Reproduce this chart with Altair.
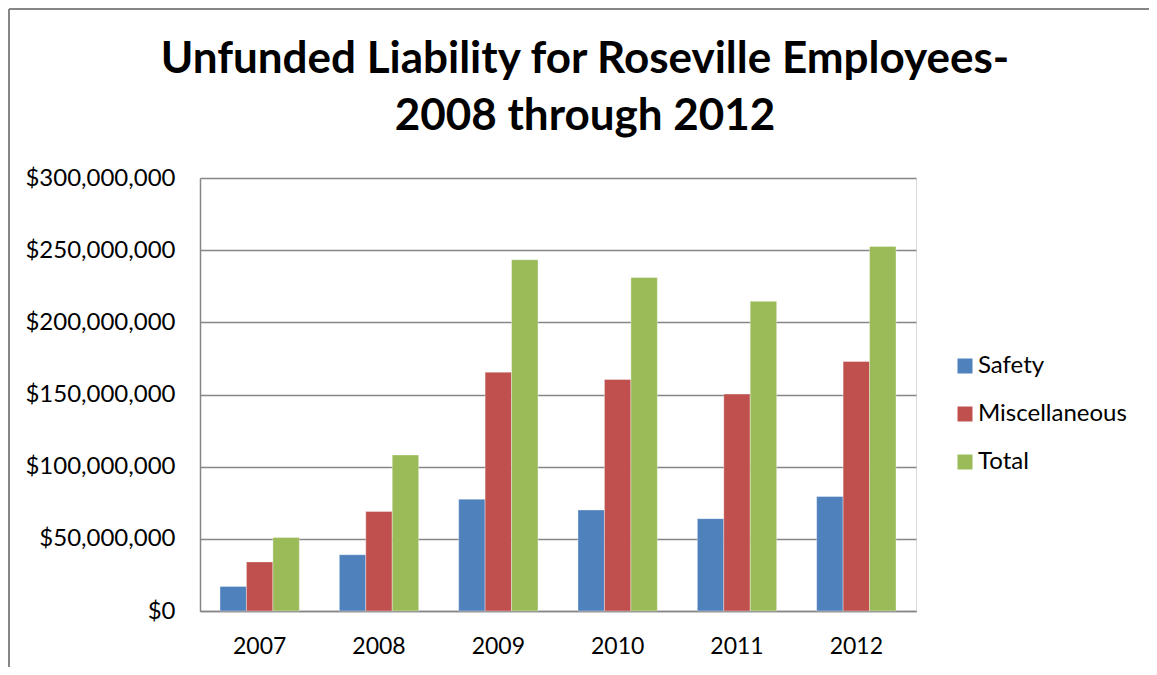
import altair as alt
import pandas as pd

years = ["2007", "2008", "2009", "2010", "2011", "2012"]
series = ["Safety", "Miscellaneous", "Total"]
safety = [17.0e6, 39.0e6, 77.5e6, 70.0e6, 64.0e6, 79.3e6]
misc = [34.0e6, 69.0e6, 165.5e6, 160.4e6, 150.3e6, 172.9e6]
total = [51.0e6, 108.1e6, 243.4e6, 231.0e6, 214.6e6, 252.6e6]
colors = ["#4F81BD", "#C0504D", "#9BBB59"]
y_ticks = [0, 50e6, 100e6, 150e6, 200e6, 250e6, 300e6]
title_lines = ["Unfunded Liability for Roseville Employees-", "2008 through 2012"]

rows = []
for i, yr in enumerate(years):
    for s, vals in zip(series, [safety, misc, total]):
        rows.append({"Year": yr, "Series": s, "Value": vals[i]})
df = pd.DataFrame(rows)

FONT = "Lato"
GRID = "#868686"

bars = alt.Chart(df).mark_bar(stroke="white", strokeWidth=0.6, strokeOpacity=0.6).encode(
    x=alt.X("Year:N", sort=years, title=None,
            scale=alt.Scale(paddingInner=0.335, paddingOuter=0.1675),
            axis=alt.Axis(labelAngle=0, labelFontSize=23, labelColor="black",
                          labelPadding=24, ticks=False, domainColor=GRID,
                          domainWidth=1.5, labelFont=FONT)),
    xOffset=alt.XOffset("Series:N", sort=series),
    y=alt.Y("Value:Q", title=None,
            scale=alt.Scale(domain=[0, 300e6], nice=False),
            axis=alt.Axis(values=y_ticks, format="$,.0f", labelFontSize=24,
                          labelColor="black", labelPadding=25, ticks=False,
                          domainColor=GRID, domainWidth=1.5, gridColor=GRID,
                          gridWidth=1.5, labelFont=FONT)),
    color=alt.Color("Series:N", sort=series,
                    scale=alt.Scale(domain=series, range=colors),
                    legend=alt.Legend(title=None, orient="none", legendX=753,
                                      legendY=176, symbolType="square",
                                      symbolSize=225, symbolStrokeWidth=0,
                                      labelFontSize=24, labelFont=FONT,
                                      labelColor="black", rowPadding=24,
                                      labelOffset=1)),
)

frame_data = alt.Data(values=[{"a": 1}])
top_line = alt.Chart(frame_data).mark_rule(color=GRID, strokeWidth=2).encode(
    x=alt.value(-191), x2=alt.value(949), y=alt.value(-169))
left_line = alt.Chart(frame_data).mark_rule(color=GRID, strokeWidth=2).encode(
    x=alt.value(-191), y=alt.value(-169), y2=alt.value(489))

title_df = pd.DataFrame({"line": title_lines})
title1 = alt.Chart(title_df).transform_filter(alt.datum.line == title_lines[0]).mark_text(
    font=FONT, fontSize=44, fontWeight="bold", color="black", align="center",
    baseline="alphabetic").encode(text="line:N", x=alt.value(385), y=alt.value(-105))
title2 = alt.Chart(title_df).transform_filter(alt.datum.line == title_lines[1]).mark_text(
    font=FONT, fontSize=44, fontWeight="bold", color="black", align="center",
    baseline="alphabetic").encode(text="line:N", x=alt.value(385), y=alt.value(-48))

chart = alt.layer(bars, top_line, left_line, title1, title2).properties(
    width=716, height=433,
    autosize=alt.AutoSizeParams(type="none"),
    padding={"left": 192, "top": 170, "right": 233, "bottom": 56},
).configure_view(stroke=None).configure(font=FONT)

chart.save("out.html", embed_options={"renderer": "svg", "actions": False})
